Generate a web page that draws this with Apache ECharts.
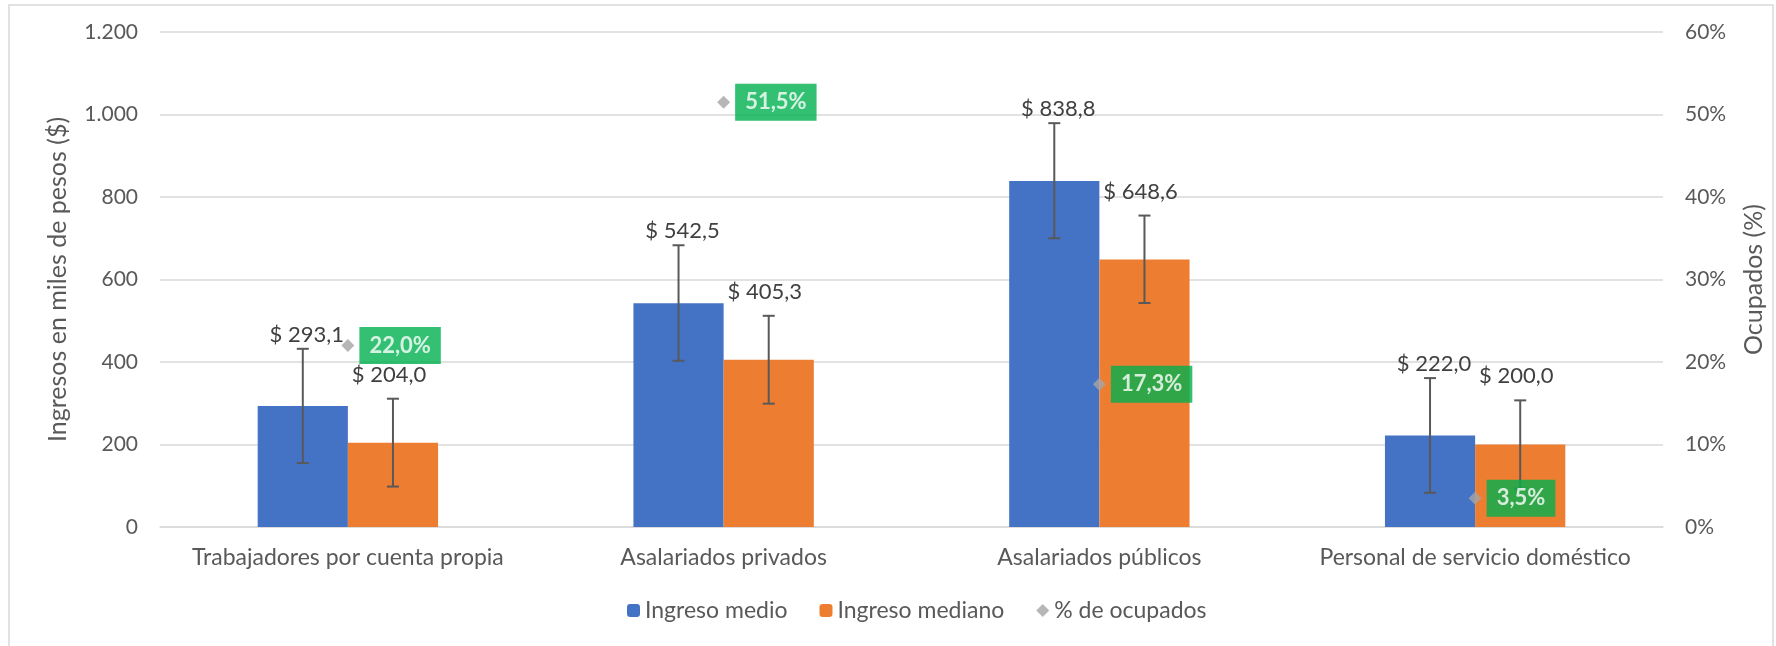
<!DOCTYPE html>
<html>
<head>
<meta charset="utf-8">
<script src="https://cdn.jsdelivr.net/npm/echarts@6/dist/echarts.min.js"></script>
<style>
    html, body { margin: 0; padding: 0; background: #fff; }
    #main { width: 1776px; height: 646px; }
</style>
</head>
<body>
<div id="main"></div>
<script>
    // datos
    var categorias = ['Trabajadores por cuenta propia', 'Asalariados privados', 'Asalariados públicos', 'Personal de servicio doméstico'];
    var ingresoMedio = [293.1, 542.5, 838.8, 222.0];
    var ingresoMediano = [204.0, 405.3, 648.6, 200.0];
    var pctOcupados = [22.0, 51.5, 17.3, 3.5];
    // extremos de las barras de error (estimados)
    var medioBajo = [155, 403, 700, 83];
    var medioAlto = [432, 683, 979, 361];
    var medianoBajo = [98, 299, 543, 93];
    var medianoAlto = [311, 512, 755, 307];
    var ticksIzq = ['0', '200', '400', '600', '800', '1.000', '1.200'];

    var fuente = 'Lato';
    var gris = '#595959';
    var catGap = 0.52;

    function fmtPesos(v) {
        return '$ ' + v.toFixed(1).replace('.', ',');
    }

    function errorData(bajo, alto, valores) {
        return bajo.map(function (b, i) { return [i, b, alto[i], valores[i]]; });
    }

    // dibuja barra de error + etiqueta del valor
    function errorRender(lado, subida) {
        return function (params, api) {
            var idx = api.value(0);
            var banda = api.size([1, 0])[0];
            var anchoBarra = banda * (1 - catGap) / 2;
            var x = api.coord([idx, 0])[0] + lado * anchoBarra / 2;
            var yBajo = api.coord([idx, api.value(1)])[1];
            var yAlto = api.coord([idx, api.value(2)])[1];
            var cap = 6;
            var st = { stroke: gris, lineWidth: 2 };
            return {
                type: 'group',
                children: [
                    { type: 'line', shape: { x1: x, y1: yBajo, x2: x, y2: yAlto }, style: st },
                    { type: 'line', shape: { x1: x - cap, y1: yAlto, x2: x + cap, y2: yAlto }, style: st },
                    { type: 'line', shape: { x1: x - cap, y1: yBajo, x2: x + cap, y2: yBajo }, style: st },
                    {
                        type: 'text', x: x - lado * 4, y: yAlto - subida,
                        style: {
                            text: fmtPesos(api.value(3)), fill: '#404040',
                            font: '22px ' + fuente, align: 'center', verticalAlign: 'middle'
                        }
                    }
                ]
            };
        };
    }

    var option = {
        animation: false,
        textStyle: { fontFamily: fuente },
        graphic: [{
            type: 'rect', silent: true,
            shape: { x: 9, y: 5, width: 1764, height: 700 },
            style: { fill: 'none', stroke: '#d9d9d9', lineWidth: 1.5 }
        }],
        grid: { left: 160, right: 113, top: 32, bottom: 119 },
        legend: {
            data: ['Ingreso medio', 'Ingreso mediano', '% de ocupados'],
            bottom: 19,
            left: 622,
            itemWidth: 13,
            itemHeight: 13,
            itemGap: 32,
            textStyle: { color: gris, fontSize: 23, fontFamily: fuente }
        },
        xAxis: {
            type: 'category',
            data: categorias,
            axisTick: { show: false },
            axisLine: { lineStyle: { color: '#d9d9d9', width: 1.5 } },
            axisLabel: { color: gris, fontSize: 23, margin: 19, interval: 0 }
        },
        yAxis: [
            {
                type: 'value', min: 0, max: 1200, interval: 200,
                name: 'Ingresos en miles de pesos ($)',
                nameLocation: 'middle', nameGap: 90,
                nameTextStyle: { color: gris, fontSize: 25 },
                splitLine: { lineStyle: { color: '#d9d9d9', width: 1.5 } },
                axisLabel: {
                    color: gris, fontSize: 21, margin: 22,
                    formatter: function (v) { return ticksIzq[Math.round(v / 200)]; }
                }
            },
            {
                type: 'value', min: 0, max: 60, interval: 10,
                name: 'Ocupados (%)',
                nameLocation: 'middle', nameGap: 78,
                nameTextStyle: { color: gris, fontSize: 25 },
                splitLine: { show: false },
                axisLabel: { color: gris, fontSize: 21, margin: 22, formatter: '{value}%' }
            }
        ],
        series: [
            {
                name: 'Ingreso medio', type: 'bar', data: ingresoMedio,
                barGap: 0, barCategoryGap: (catGap * 100) + '%',
                itemStyle: { color: '#4472c4' }
            },
            {
                name: 'Ingreso mediano', type: 'bar', data: ingresoMediano,
                barGap: 0, barCategoryGap: (catGap * 100) + '%',
                itemStyle: { color: '#ed7d31' }
            },
            {
                name: 'err medio', type: 'custom', z: 3,
                renderItem: errorRender(-1, 14),
                encode: { x: 0, y: [1, 2] },
                data: errorData(medioBajo, medioAlto, ingresoMedio)
            },
            {
                name: 'err mediano', type: 'custom', z: 3,
                renderItem: errorRender(1, 24),
                encode: { x: 0, y: [1, 2] },
                data: errorData(medianoBajo, medianoAlto, ingresoMediano)
            },
            {
                name: '% de ocupados', type: 'scatter', yAxisIndex: 1, z: 6,
                symbol: 'diamond', symbolSize: 13,
                itemStyle: { color: '#a5a5a5' },
                data: pctOcupados,
                label: {
                    show: true, position: 'right', distance: 5,
                    backgroundColor: '#00b050', color: '#fff',
                    fontWeight: 'bold', fontSize: 22, padding: [8, 10, 7, 10],
                    formatter: function (p) { return p.value.toFixed(1).replace('.', ',') + '%'; }
                }
            }
        ]
    };

    var myChart = echarts.init(document.getElementById('main'));
    myChart.setOption(option);
</script>
</body>
</html>
